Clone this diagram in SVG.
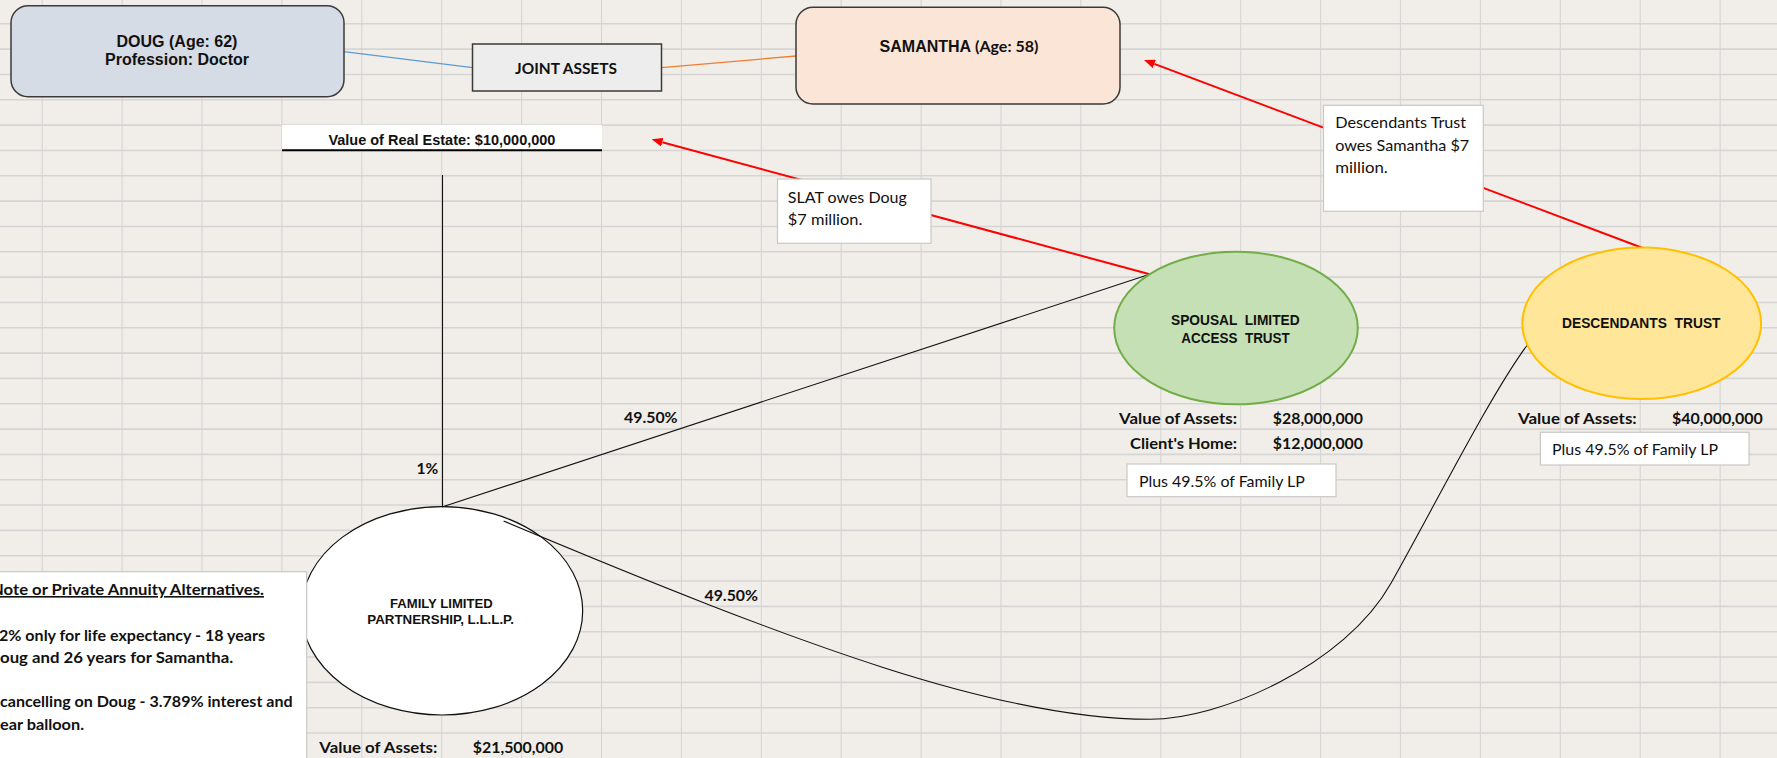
<svg xmlns="http://www.w3.org/2000/svg" width="1777" height="758" viewBox="0 0 1777 758">
<style>
.gh{stroke:#d5d5d5;stroke-width:1.6;fill:none}
.gv{stroke:#d5d5d5;stroke-width:1.1;fill:none}
.ar{font-family:"Liberation Sans",Arial,sans-serif;font-weight:bold;fill:#111}
.cb{font-family:Lato,"Liberation Sans",sans-serif;font-weight:bold;font-size:16px;fill:#111}
.cr{font-family:Lato,"Liberation Sans",sans-serif;font-weight:normal;font-size:16px;fill:#111}
.box{fill:#fff;stroke:#c8c8c8;stroke-width:1.2}
.red{stroke:#ff0000;stroke-width:2;fill:none}
.blk{stroke:#111;stroke-width:1.1;fill:none}
.pre{white-space:pre}
</style>
<defs>
<marker id="arr" viewBox="0 0 11 9" refX="0" refY="4.5" markerWidth="11" markerHeight="9" markerUnits="userSpaceOnUse" orient="auto">
<path d="M0,0 L11,4.5 L0,9 z" fill="#ff0000"/>
</marker>
</defs>
<rect x="0" y="0" width="1777" height="758" fill="#f1eee9"/>
<g id="grid">
<path class="gh" d="M0,23.8H1777M0,49.13H1777M0,74.46H1777M0,99.79H1777M0,125.12H1777M0,150.45H1777M0,175.78H1777M0,201.11H1777M0,226.44H1777M0,251.77H1777M0,277.1H1777M0,302.43H1777M0,327.76H1777M0,353.09H1777M0,378.42H1777M0,403.75H1777M0,429.08H1777M0,454.41H1777M0,479.74H1777M0,505.07H1777M0,530.4H1777M0,555.73H1777M0,581.06H1777M0,606.39H1777M0,631.72H1777M0,657.05H1777M0,682.38H1777M0,707.71H1777M0,733.04H1777"/>
<path class="gv" d="M42.2,0V758M122.1,0V758M202,0V758M281.9,0V758M361.8,0V758M441.7,0V758M521.6,0V758M601.5,0V758M681.4,0V758M761.3,0V758M841.2,0V758M921.1,0V758M1001,0V758M1080.9,0V758M1160.8,0V758M1240.7,0V758M1320.6,0V758M1400.5,0V758M1480.4,0V758M1560.3,0V758M1640.2,0V758M1720.1,0V758"/>
</g>
<g id="real-estate">
<rect x="282" y="125" width="320" height="24.5" fill="#fff"/>
<line x1="282" y1="150.3" x2="602" y2="150.3" stroke="#000" stroke-width="2"/>
<text class="ar" x="328.4" y="145" font-size="14" textLength="227" lengthAdjust="spacingAndGlyphs">Value of Real Estate: $10,000,000</text>
</g>
<g id="flp">
<ellipse cx="442" cy="610.8" rx="140.7" ry="104.2" fill="#fff" stroke="#111" stroke-width="1.2"/>
<text class="ar" x="390" y="607.7" font-size="12.5" textLength="102.7" lengthAdjust="spacingAndGlyphs">FAMILY LIMITED</text>
<text class="ar" x="367.3" y="624" font-size="12.5" textLength="146.7" lengthAdjust="spacingAndGlyphs">PARTNERSHIP, L.L.L.P.</text>
<text class="cb" x="319.3" y="752.7" textLength="118" lengthAdjust="spacingAndGlyphs">Value of Assets:</text>
<text class="cb" x="472.7" y="752.7" textLength="90.6" lengthAdjust="spacingAndGlyphs">$21,500,000</text>
</g>
<g id="connectors">
<line x1="344" y1="51.7" x2="472.5" y2="67.7" stroke="#5b9bd5" stroke-width="1.3"/>
<line x1="661.6" y1="67.7" x2="796" y2="56" stroke="#ed7d31" stroke-width="1.3"/>
<line class="blk" x1="442.5" y1="175" x2="442.5" y2="507"/>
<line class="blk" x1="442" y1="507" x2="1149.7" y2="274.3"/>
<path class="blk" d="M503.6,521 C803.6,647 1000,719.3 1150,719.3 C1220,719.3 1344.5,666 1391,583.3 C1435.1,505 1491.4,393.1 1527.3,345"/>
<line class="red" x1="1149.7" y1="274.3" x2="662.3" y2="142.2" marker-end="url(#arr)"/>
<line class="red" x1="1642" y1="247.7" x2="1154.3" y2="63.9" marker-end="url(#arr)"/>
<text class="cb" x="624" y="423.3" textLength="53.6" lengthAdjust="spacingAndGlyphs">49.50%</text>
<text class="cb" x="704.5" y="600.7" textLength="53.5" lengthAdjust="spacingAndGlyphs">49.50%</text>
<text class="cb" x="416.4" y="474" textLength="21.8" lengthAdjust="spacingAndGlyphs">1%</text>
</g>
<g id="doug">
<rect x="11" y="5.7" width="333" height="91" rx="17" ry="17" fill="#d6dce5" stroke="#3a3a3a" stroke-width="1.5"/>
<text class="ar" x="177" y="46.7" font-size="16" text-anchor="middle">DOUG (Age: 62)</text>
<text class="ar" x="177" y="65" font-size="16" text-anchor="middle">Profession: Doctor</text>
</g>
<g id="joint-assets">
<rect x="472.5" y="44" width="189" height="47" fill="#ededed" stroke="#3a3a3a" stroke-width="1.5"/>
<text class="cb" x="515" y="74" textLength="102" lengthAdjust="spacingAndGlyphs">JOINT ASSETS</text>
</g>
<g id="samantha">
<rect x="796" y="7.3" width="324" height="96.7" rx="17" ry="17" fill="#fbe5d6" stroke="#3a3a3a" stroke-width="1.5"/>
<text x="879.6" y="51.7"><tspan class="ar" font-size="16">SAMANTHA</tspan><tspan class="cb" font-size="14">  (Age: 58)</tspan></text>
</g>
<g id="slat-label">
<rect class="box" x="777.5" y="179" width="153.5" height="64.3"/>
<text class="cr" x="787.8" y="202.5" textLength="119" lengthAdjust="spacingAndGlyphs">SLAT owes Doug</text>
<text class="cr" x="787.8" y="224.5" textLength="74.5" lengthAdjust="spacingAndGlyphs">$7 million.</text>
</g>
<g id="desc-label">
<rect class="box" x="1323.5" y="105.3" width="159.8" height="106"/>
<text class="cr" x="1335.2" y="128.3" textLength="131" lengthAdjust="spacingAndGlyphs">Descendants Trust</text>
<text class="cr" x="1335.2" y="150.7" textLength="134" lengthAdjust="spacingAndGlyphs">owes Samantha $7</text>
<text class="cr" x="1335.2" y="173.3" textLength="52.5" lengthAdjust="spacingAndGlyphs">million.</text>
</g>
<g id="slat">
<ellipse cx="1236" cy="328" rx="121.8" ry="76.3" fill="#c5e0b4" stroke="#70ad47" stroke-width="2"/>
<text class="ar pre" x="1171" y="325" font-size="14" textLength="128.6" lengthAdjust="spacingAndGlyphs">SPOUSAL  LIMITED</text>
<text class="ar pre" x="1181.3" y="342.7" font-size="14" textLength="108.5" lengthAdjust="spacingAndGlyphs">ACCESS  TRUST</text>
<text class="cb" x="1119" y="424" textLength="118" lengthAdjust="spacingAndGlyphs">Value of Assets:</text>
<text class="cb" x="1130" y="449" textLength="107" lengthAdjust="spacingAndGlyphs">Client's Home:</text>
<text class="cb" x="1272.8" y="424" textLength="90.2" lengthAdjust="spacingAndGlyphs">$28,000,000</text>
<text class="cb" x="1272.8" y="449" textLength="90.2" lengthAdjust="spacingAndGlyphs">$12,000,000</text>
<rect class="box" x="1127" y="464" width="209" height="32.7"/>
<text class="cr" x="1138.9" y="486.5" textLength="166" lengthAdjust="spacingAndGlyphs">Plus 49.5% of Family LP</text>
</g>
<g id="descendants">
<ellipse cx="1641.7" cy="323.3" rx="119.4" ry="75.7" fill="#ffe699" stroke="#ffc000" stroke-width="2"/>
<text class="ar pre" x="1562" y="327.7" font-size="14" textLength="158.5" lengthAdjust="spacingAndGlyphs">DESCENDANTS  TRUST</text>
<text class="cb" x="1518" y="424" textLength="118.7" lengthAdjust="spacingAndGlyphs">Value of Assets:</text>
<text class="cb" x="1672" y="424" textLength="90.8" lengthAdjust="spacingAndGlyphs">$40,000,000</text>
<rect class="box" x="1540.4" y="432.3" width="208.6" height="32.7"/>
<text class="cr" x="1552" y="455" textLength="166" lengthAdjust="spacingAndGlyphs">Plus 49.5% of Family LP</text>
</g>
<g id="notes">
<rect class="box" x="-3" y="571.7" width="309.7" height="200"/>
<text class="cb" x="-9" y="595" textLength="273" lengthAdjust="spacingAndGlyphs" text-decoration="underline">Note or Private Annuity Alternatives.</text>
<text class="cb" x="-1" y="640.7" textLength="266" lengthAdjust="spacingAndGlyphs">2% only for life expectancy - 18 years</text>
<text class="cb" x="0" y="663.3" textLength="233.3" lengthAdjust="spacingAndGlyphs">oug and 26 years for Samantha.</text>
<text class="cb" x="0" y="706.7" textLength="292.6" lengthAdjust="spacingAndGlyphs">cancelling on Doug - 3.789% interest and</text>
<text class="cb" x="0" y="730" textLength="84" lengthAdjust="spacingAndGlyphs">ear balloon.</text>
</g>
</svg>
